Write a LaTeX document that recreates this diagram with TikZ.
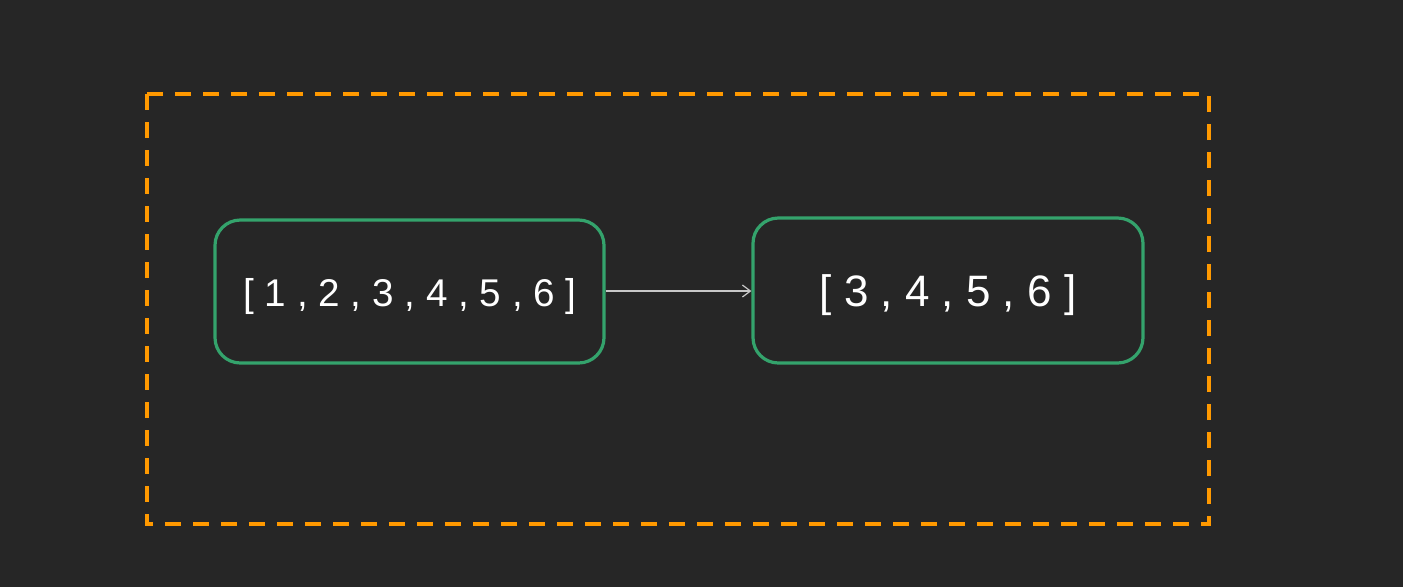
\documentclass[tikz,border=0pt]{standalone}
\usepackage{fontspec}
\setmainfont{Liberation Sans}
\usetikzlibrary{arrows.meta}
\definecolor{bg}{RGB}{38,38,38}
\definecolor{frameor}{RGB}{255,153,0}
\definecolor{boxgreen}{RGB}{52,163,108}
\definecolor{arrowgray}{RGB}{200,200,200}
\tikzset{
  listbox/.style={draw=boxgreen, line width=2.4pt, rounded corners=19pt, inner sep=0pt},
  listtext/.style={text=white, inner sep=0pt},
  frame/.style={draw=frameor, line width=2.3pt, dash pattern=on 12pt off 9pt},
  link/.style={draw=arrowgray, line width=0.9pt, -{Straight Barb[length=6pt,width=9pt]}}
}
\begin{document}
\begin{tikzpicture}[x=0.75pt,y=-0.75pt]
\fill[bg] (0,0) rectangle (1403,587);
\useasboundingbox (0,0) rectangle (1403,587);
\draw[frame] (147,94) rectangle (1209,524);
\node[listbox, minimum width=389*0.75pt, minimum height=143*0.75pt] (a) at (409.5,291.5) {};
\node[listbox, minimum width=390*0.75pt, minimum height=145*0.75pt] (b) at (948,290.5) {};
\node[listtext, font=\fontsize{29pt}{34pt}\selectfont] (ta) at (410,296) {[ 1 , 2 , 3 , 4 , 5 , 6 ]};
\node[listtext, font=\fontsize{33pt}{39pt}\selectfont] (tb) at (948,295) {[ 3 , 4 , 5 , 6 ]};
\draw[link] (a.east |- 0,291) -- (b.west |- 0,291);
\end{tikzpicture}
\end{document}
